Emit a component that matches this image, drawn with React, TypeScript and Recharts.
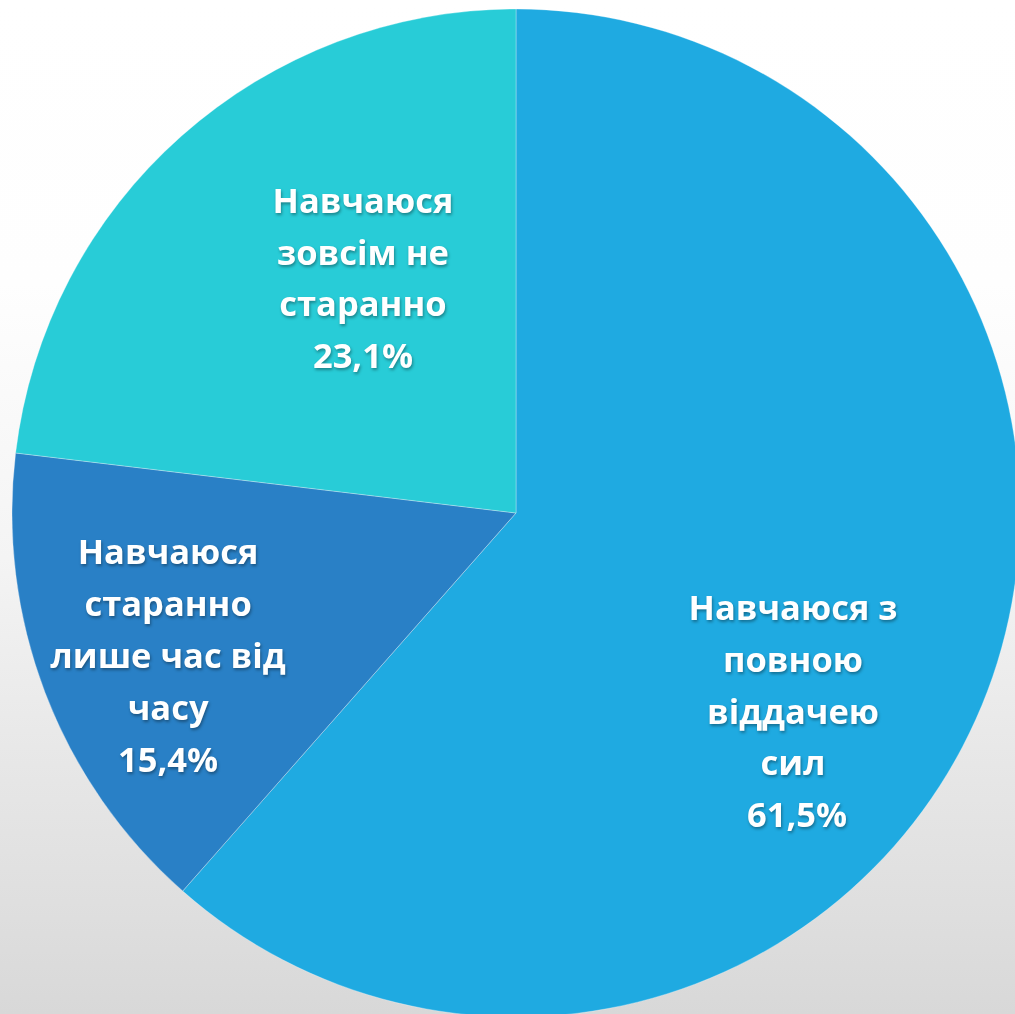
import React from "react";
import { PieChart, Pie, Cell } from "recharts";

// ---- data ----
const categories: string[] = [
  "Навчаюся з повною віддачею сил",
  "Навчаюся старанно лише час від часу",
  "Навчаюся зовсім не старанно",
];
const values: number[] = [61.5, 15.4, 23.1];
const labelLines: string[][] = [
  ["Навчаюся з", "повною", "віддачею", "сил"],
  ["Навчаюся", "старанно", "лише час від", "часу"],
  ["Навчаюся", "зовсім не", "старанно"],
];

// ---- style / layout ----
const COLORS = ["#1FAAE1", "#2980C6", "#28CCD7"];
// label anchor placement in polar terms (degrees, fraction of radius)
const LABEL_PLACE = [
  { angle: -35.6, r: 0.676 },
  { angle: -157.7, r: 0.746 },
  { angle: 123.1, r: 0.556 },
];
const W = 1015;
const H = 1014;
const FONT_SIZE = 34.5;
const LINE_H = 51.8;
const CAP = 0.714;

const data = categories.map((name, i) => ({ name, value: values[i], lines: labelLines[i] }));

const fmtPct = (v: number) => v.toFixed(1).replace(".", ",") + "%";

const renderLabel = (props: any) => {
  const { cx, cy, outerRadius, index } = props;
  const place = LABEL_PLACE[index];
  const rad = (Math.PI / 180) * place.angle;
  const x = cx + Math.cos(-rad) * outerRadius * place.r;
  const y = cy + Math.sin(-rad) * outerRadius * place.r;
  const lines = [...data[index].lines, fmtPct(data[index].value)];
  const n = lines.length;
  const top = y - ((n - 1) / 2) * LINE_H + (FONT_SIZE * CAP) / 2;
  return (
    <text
      key={"lbl" + index}
      x={x}
      y={top}
      textAnchor="middle"
      fill="#ffffff"
      fontFamily="'Open Sans', 'Noto Sans', sans-serif"
      fontWeight={700}
      fontSize={FONT_SIZE}
      style={{ filter: "drop-shadow(1px 2px 1.5px rgba(0,0,0,0.35))" }}
    >
      {lines.map((l, i) => (
        <tspan key={i} x={x + (index === 0 && i === n - 1 ? 4 : 0)} y={top + i * LINE_H}>
          {l}
        </tspan>
      ))}
    </text>
  );
};

export default function App() {
  return (
    <div
      style={{
        position: "absolute",
        left: 0,
        top: 0,
        width: W,
        height: H,
        overflow: "hidden",
        background:
          "linear-gradient(to bottom, #ffffff 0%, #fefefe 28%, #f4f4f4 55%, #e9e9e9 72%, #dfdfdf 89%, #d8d8d8 100%)",
      }}
    >
      <PieChart width={W} height={H} margin={{ top: 0, right: 0, bottom: 0, left: 0 }}>
        <Pie
          data={data}
          dataKey="value"
          nameKey="name"
          cx={516}
          cy={513}
          outerRadius={504}
          innerRadius={0}
          startAngle={90}
          endAngle={-270}
          stroke="#ffffff"
          strokeWidth={0.6}
          strokeOpacity={0.5}
          label={renderLabel}
          labelLine={false}
          isAnimationActive={false}
        >
          {data.map((d, i) => (
            <Cell key={d.name} fill={COLORS[i]} />
          ))}
        </Pie>
      </PieChart>
    </div>
  );
}
